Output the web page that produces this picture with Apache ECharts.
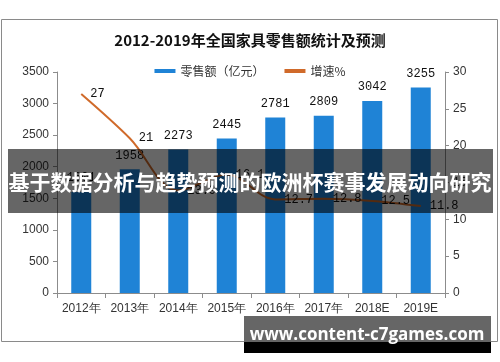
<!DOCTYPE html>
<html>
<head>
<meta charset="utf-8">
<script src="https://cdn.jsdelivr.net/npm/echarts@6/dist/echarts.min.js"></script>
<style>html,body{margin:0;padding:0;background:#fff;}#c{width:500px;height:362px;}</style>
</head>
<body>
<div id="c"></div>
<script>
const titleText = '2012-2019年全国家具零售额统计及预测';
const categories = ['2012年','2013年','2014年','2015年','2016年','2017年','2018E','2019E'];
const salesName = '零售额（亿元）';
const growthName = '增速%';
const salesValues = [1601, 1958, 2273, 2445, 2781, 2809, 3042, 3255];
const growthValues = [27, 21, 13.9, 16.1, 12.7, 12.8, 12.5, 11.8];
const leftAxisMax = 3500, leftAxisStep = 500;
const rightAxisMax = 30, rightAxisStep = 5;
const bannerText = '基于数据分析与趋势预测的欧洲杯赛事发展动向研究';
const siteText = 'www.content-c7games.com';

const chart = echarts.init(document.getElementById('c'), null, {renderer: 'canvas'});
const axisColor = '#8c8c8c';
const tickLabel = {color: '#333', fontSize: 12, fontFamily: 'Liberation Sans'};
const plain = v => String(v);
chart.setOption({
  animation: false,
  backgroundColor: '#fff',
  title: {
    text: titleText, left: 'center', top: 28,
    textStyle: {fontFamily: 'Noto Sans CJK SC', fontWeight: 'bold', fontSize: 15, color: '#111'}
  },
  legend: {
    top: 60, left: 'center', itemWidth: 21, itemHeight: 4, itemGap: 20,
    textStyle: {fontFamily: 'Noto Sans CJK SC', fontSize: 12, color: '#333'},
    data: [{name: salesName, icon: 'rect'}, {name: growthName, icon: 'rect'}]
  },
  grid: {left: 57, right: 55, top: 72, bottom: 69},
  xAxis: {
    type: 'category', data: categories,
    axisLine: {lineStyle: {color: axisColor}},
    axisTick: {show: true, length: 5, lineStyle: {color: axisColor}},
    axisLabel: Object.assign({margin: 10, interval: 0}, tickLabel)
  },
  yAxis: [
    {
      type: 'value', min: 0, max: leftAxisMax, interval: leftAxisStep,
      axisLine: {show: true, lineStyle: {color: axisColor}},
      axisTick: {show: true, length: 4, lineStyle: {color: axisColor}},
      splitLine: {show: false},
      axisLabel: Object.assign({margin: 8, formatter: plain}, tickLabel)
    },
    {
      type: 'value', min: 0, max: rightAxisMax, interval: rightAxisStep,
      axisLine: {show: true, lineStyle: {color: axisColor}},
      axisTick: {show: true, length: 4, lineStyle: {color: axisColor}},
      splitLine: {show: false},
      axisLabel: Object.assign({margin: 8, formatter: plain}, tickLabel)
    }
  ],
  series: [
    {
      name: salesName, type: 'bar', data: salesValues, barWidth: 20,
      itemStyle: {color: '#1f83d6'},
      label: {show: true, position: 'top', distance: 8, color: '#111', fontSize: 12, fontFamily: 'Liberation Mono', formatter: p => String(p.value)}
    },
    {
      name: growthName, type: 'line', yAxisIndex: 1, data: growthValues,
      smooth: 0.35, showSymbol: true, symbol: 'circle', symbolSize: 0,
      color: '#d06a2a',
      lineStyle: {color: '#d06a2a', width: 2},
      label: {show: true, position: 'right', distance: 9, color: '#111', fontSize: 12, fontFamily: 'Liberation Mono'}
    }
  ],
  graphic: [
    {type: 'rect', z: 50, shape: {x: 1.5, y: 19.5, width: 496, height: 322}, style: {fill: 'none', stroke: '#8a8a8a', lineWidth: 1}},
    {type: 'rect', z: 100, shape: {x: 8, y: 149, width: 485, height: 64}, style: {fill: 'rgba(0,0,0,0.6)'}},
    {type: 'text', z: 101, x: 250, y: 182, style: {text: bannerText, fill: '#fff', font: 'bold 21px "Noto Sans CJK SC"', textAlign: 'center', textVerticalAlign: 'middle'}},
    {type: 'rect', z: 100, shape: {x: 244, y: 316, width: 247, height: 26}, style: {fill: '#666'}},
    {type: 'rect', z: 100, shape: {x: 244, y: 342, width: 247, height: 11}, style: {fill: '#000'}},
    {type: 'text', z: 101, x: 367, y: 335, style: {text: siteText, fill: '#fff', font: 'bold 17px "Open Sans"', textAlign: 'center', textVerticalAlign: 'middle'}}
  ]
});
</script>
</body>
</html>
